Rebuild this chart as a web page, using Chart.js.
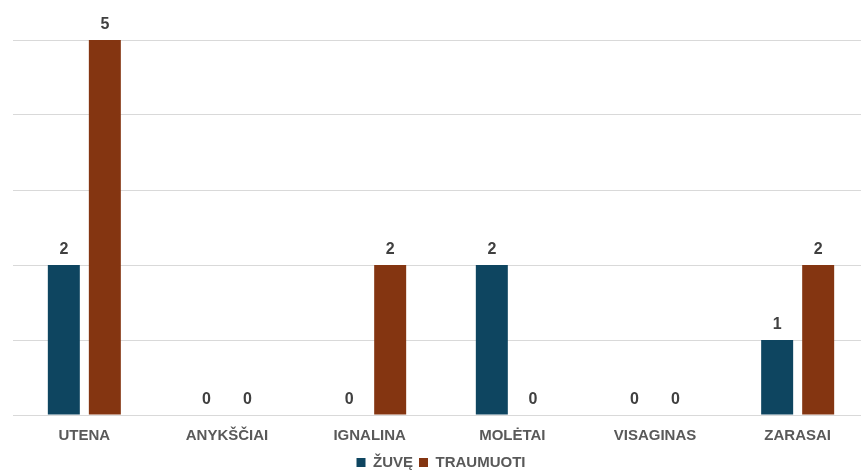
<!DOCTYPE html>
<html>
<head>
<meta charset="utf-8">
<script src="https://cdn.jsdelivr.net/npm/chart.js@4"></script>
<style>
  html, body { margin: 0; padding: 0; background: #fff; overflow: hidden; }
  #wrap { width: 869px; height: 470px; }
</style>
</head>
<body>
<div id="wrap"><canvas id="chart"></canvas></div>
<script>
var categories = ["UTENA", "ANYKŠČIAI", "IGNALINA", "MOLĖTAI", "VISAGINAS", "ZARASAI"];
var zuve = [2, 0, 0, 2, 0, 1];
var traumuoti = [5, 0, 2, 0, 0, 2];
var seriesNames = ["ŽUVĘ", "TRAUMUOTI"];

// draws the value above each bar
var valueLabels = {
    id: "valueLabels",
    afterDatasetsDraw: function (chart) {
        var ctx = chart.ctx;
        ctx.save();
        ctx.font = "bold 16px 'Liberation Sans', Arial, sans-serif";
        ctx.fillStyle = "#404040";
        ctx.textAlign = "center";
        ctx.textBaseline = "bottom";
        chart.data.datasets.forEach(function (ds, i) {
            chart.getDatasetMeta(i).data.forEach(function (bar, j) {
                ctx.fillText(String(ds.data[j]), bar.x, bar.y - 7);
            });
        });
        ctx.restore();
    }
};

new Chart(document.getElementById("chart"), {
    type: "bar",
    data: {
        labels: categories,
        datasets: [{
            label: seriesNames[0],
            data: zuve,
            backgroundColor: "#0e4560",
            categoryPercentage: 0.575,
            barPercentage: 0.78
        }, {
            label: seriesNames[1],
            data: traumuoti,
            backgroundColor: "#843511",
            categoryPercentage: 0.575,
            barPercentage: 0.78
        }]
    },
    options: {
        responsive: true,
        maintainAspectRatio: false,
        animation: false,
        layout: { padding: { left: 13, right: 0, top: 40, bottom: -10 } },
        scales: {
            x: {
                grid: { display: false },
                border: { display: false },
                ticks: {
                    color: "#595959",
                    font: { family: "'Liberation Sans', Arial, sans-serif", size: 15, weight: "bold" },
                    padding: 4
                }
            },
            y: {
                min: 0,
                max: 5,
                ticks: { display: false, stepSize: 1 },
                border: { display: false },
                grid: { color: "#d9d9d9", drawTicks: false }
            }
        },
        plugins: {
            legend: {
                position: "bottom",
                labels: {
                    boxWidth: 9,
                    boxHeight: 9,
                    padding: 6,
                    color: "#595959",
                    font: { family: "'Liberation Sans', Arial, sans-serif", size: 15, weight: "bold" }
                }
            },
            tooltip: { enabled: false }
        }
    },
    plugins: [valueLabels]
});
</script>
</body>
</html>
